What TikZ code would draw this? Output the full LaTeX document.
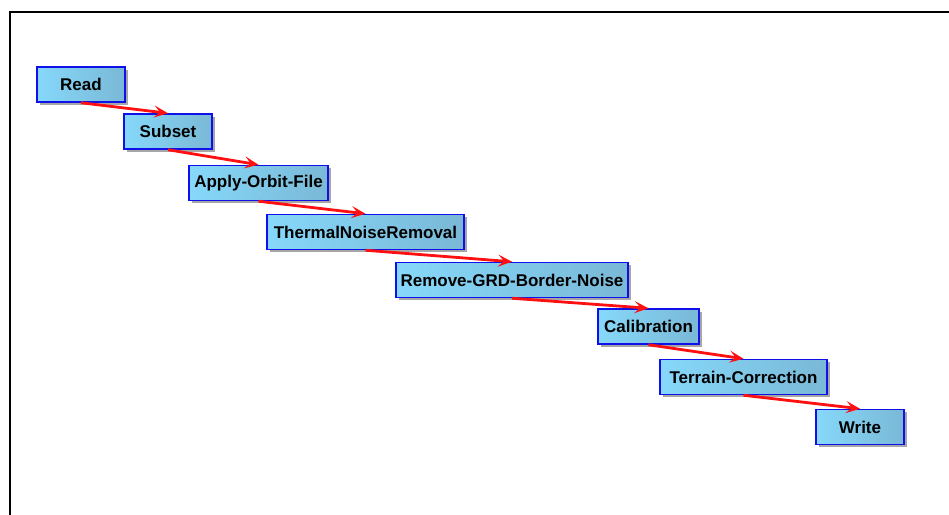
\documentclass[tikz,border=0pt]{standalone}
\usepackage{fontspec}
\setmainfont{Liberation Sans}
\usetikzlibrary{arrows.meta,shadows}
\definecolor{boxleft}{HTML}{86D8FA}
\definecolor{boxright}{HTML}{7AB8D6}
\definecolor{boxborder}{HTML}{1010E8}
\definecolor{arrowred}{HTML}{FF1010}
\tikzset{
  stepbox/.style={draw=boxborder, line width=1.5pt, left color=boxleft, right color=boxright,
    minimum height=35pt, inner sep=0pt, font=\fontsize{17}{19}\selectfont\bfseries,
    drop shadow={shadow xshift=2.5pt, shadow yshift=-2.5pt, fill=black, opacity=0.35}},
  flow/.style={draw=arrowred, line width=2.8pt, -{Stealth[length=14pt,width=12pt,inset=6pt]}},
  frame/.style={draw=black, line width=2pt}
}
\begin{document}
\begin{tikzpicture}[x=1pt,y=-1pt]
\useasboundingbox (0,0) rectangle (949,514);
\fill[white] (0,0) rectangle (949,514);
\coordinate (fTR) at (960,12);
\coordinate (fTL) at (10,12);
\coordinate (fBL) at (10,530);
\draw[frame] (fTR) -- (fTL) -- (fBL);

\node[stepbox, minimum width=88pt] (read) at (81,84.5) {Read};
\node[stepbox, minimum width=88pt] (subset) at (168,131.5) {Subset};
\node[stepbox, minimum width=139pt] (orbit) at (258.5,183) {Apply-Orbit-File};
\node[stepbox, minimum width=197pt] (thermal) at (365.5,232) {ThermalNoiseRemoval};
\node[stepbox, minimum width=232pt] (border) at (512,280) {Remove-GRD-Border-Noise};
\node[stepbox, minimum width=101pt] (calib) at (648.5,326.5) {Calibration};
\node[stepbox, minimum width=167pt] (terrain) at (743.5,377) {Terrain-Correction};
\node[stepbox, minimum width=88pt] (write) at (860,427) {Write};

\draw[flow] (read.south) -- (subset.north);
\draw[flow] (subset.south) -- (orbit.north);
\draw[flow] (orbit.south) -- (thermal.north);
\draw[flow] (thermal.south) -- (border.north);
\draw[flow] (border.south) -- (calib.north);
\draw[flow] (calib.south) -- (terrain.north);
\draw[flow] (terrain.south) -- (write.north);
\end{tikzpicture}
\end{document}
